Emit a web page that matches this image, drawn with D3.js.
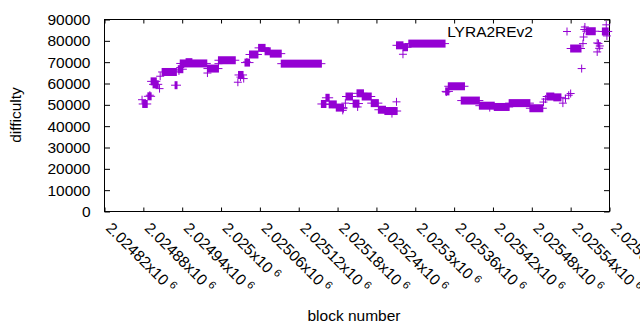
<!DOCTYPE html>
<html>
<head>
<meta charset="utf-8">
<script src="https://cdn.jsdelivr.net/npm/d3@7"></script>
<style>
  body { margin: 0; background: #fff; }
  text { font-family: "Liberation Sans", Arial, sans-serif; font-size: 15.5px; fill: #000; }
</style>
</head>
<body>
<div id="chart"></div>
<script>
// runs of blocks that share one difficulty: [first block, last block, difficulty]
const runs = [
  [2024879, 2024886, 50400], [2024887, 2024892, 54000], [2024892, 2024900, 61000],
  [2024895, 2024903, 59600], [2024909, 2024931, 65400], [2024929, 2024932, 59200],
  [2024934, 2024941, 66700], [2024937, 2024978, 69400], [2024946, 2024955, 70000],
  [2024979, 2024996, 67000], [2024996, 2025022, 70900], [2025027, 2025034, 64000],
  [2025037, 2025044, 69800], [2025044, 2025057, 73600], [2025058, 2025068, 76700],
  [2025068, 2025076, 75100], [2025076, 2025093, 74000], [2025093, 2025155, 69300],
  [2025155, 2025162, 50400], [2025162, 2025167, 53300], [2025167, 2025178, 50200],
  [2025178, 2025189, 48700], [2025193, 2025203, 53900], [2025204, 2025213, 50600],
  [2025210, 2025220, 55400], [2025218, 2025232, 53900], [2025232, 2025243, 50800],
  [2025243, 2025254, 47700], [2025253, 2025272, 47100], [2025271, 2025281, 77900],
  [2025281, 2025288, 77000], [2025290, 2025346, 78700], [2025347, 2025352, 56300],
  [2025351, 2025376, 58700], [2025371, 2025399, 52000], [2025399, 2025422, 49600],
  [2025422, 2025445, 49000], [2025445, 2025477, 50800], [2025477, 2025497, 48400],
  [2025503, 2025514, 53900], [2025514, 2025525, 53500], [2025540, 2025556, 76400],
  [2025564, 2025578, 84500], [2025589, 2025598, 84400]
];
// single blocks: [block, difficulty]
const singles = [
  [2024878, 52400], [2024890, 54500], [2024905, 57600], [2024906, 63400],
  [2024935, 65900], [2024937, 67500], [2024979, 64900], [2024996, 69300],
  [2025026, 60600], [2025030, 63000], [2025035, 62300], [2025040, 70100],
  [2025188, 47400], [2025189, 48200], [2025192, 50800], [2025211, 49000],
  [2025264, 45900], [2025271, 51400], [2025281, 73700], [2025348, 56000],
  [2025415, 48700], [2025498, 51300], [2025501, 52700], [2025528, 50800],
  [2025532, 52900], [2025537, 54500], [2025540, 55300], [2025557, 67000],
  [2025559, 78700], [2025560, 81800], [2025561, 85300], [2025562, 86500],
  [2025581, 74800], [2025581, 79000], [2025583, 78700], [2025584, 76500],
  [2025585, 77600], [2025595, 87500], [2025596, 82300]
];
const xTicks = [2024820, 2024880, 2024940, 2025000, 2025060, 2025120, 2025180,
  2025240, 2025300, 2025360, 2025420, 2025480, 2025540, 2025600];
const xTickLabels = ["2.02482", "2.02488", "2.02494", "2.025", "2.02506", "2.02512", "2.02518",
  "2.02524", "2.0253", "2.02536", "2.02542", "2.02548", "2.02554", "2.0256"];
const yTicks = [0, 10000, 20000, 30000, 40000, 50000, 60000, 70000, 80000, 90000];
const seriesName = "LYRA2REv2";

const color = "#9400d3";
const width = 640, height = 330;
const plot = { left: 104.5, right: 609.5, top: 19.5, bottom: 211.5 };

const svg = d3.select("#chart").append("svg")
  .attr("width", width)
  .attr("height", height);

const x = d3.scaleLinear().domain([2024820, 2025600]).range([plot.left, plot.right]);
const y = d3.scaleLinear().domain([0, 90000]).range([plot.bottom, plot.top]);

// axes, ticks point inward like gnuplot
svg.append("g")
  .attr("transform", "translate(" + plot.left + ",0)")
  .call(d3.axisLeft(y).tickValues(yTicks).tickSizeInner(-5.5).tickSizeOuter(0).tickPadding(14).tickFormat(d3.format("d")))
  .call(g => g.select(".domain").remove())
  .call(g => g.selectAll("text").attr("font-size", null).attr("font-family", null).attr("fill", null));

svg.append("g")
  .attr("transform", "translate(" + plot.right + ",0)")
  .call(d3.axisRight(y).tickValues(yTicks).tickSizeInner(-5.5).tickSizeOuter(0).tickFormat(""))
  .call(g => g.select(".domain").remove());

svg.append("g")
  .attr("transform", "translate(0," + plot.bottom + ")")
  .call(d3.axisBottom(x).tickValues(xTicks).tickSizeInner(-4).tickSizeOuter(0).tickFormat(""))
  .call(g => g.select(".domain").remove());

svg.append("g")
  .attr("transform", "translate(0," + plot.top + ")")
  .call(d3.axisTop(x).tickValues(xTicks).tickSizeInner(-4).tickSizeOuter(0).tickFormat(""))
  .call(g => g.select(".domain").remove());

svg.selectAll(".tick line").attr("stroke", "#000");

// rotated x tick labels
const xLab = svg.append("g").selectAll("text")
  .data(xTicks)
  .enter()
  .append("text")
  .attr("transform", d => "translate(" + (x(d) + 0.5) + ",229) rotate(45)");
xLab.append("tspan").text((d, i) => xTickLabels[i] + "x10");
xLab.append("tspan").attr("dx", 4).attr("dy", -5).attr("font-size", "11px").text("6");

svg.append("rect")
  .attr("x", plot.left).attr("y", plot.top)
  .attr("width", plot.right - plot.left).attr("height", plot.bottom - plot.top)
  .attr("fill", "none").attr("stroke", "#000").attr("stroke-width", 1);

// axis titles
svg.append("text")
  .attr("transform", "translate(21,115) rotate(-90)")
  .attr("text-anchor", "middle")
  .text("difficulty");

svg.append("text")
  .attr("x", 354).attr("y", 321)
  .attr("text-anchor", "middle")
  .text("block number");

// data
const half = 4;
const cross = "M" + (-half) + ",0H" + half + "M0," + (-half) + "V" + half;
const marks = svg.append("g");

marks.selectAll(".runBox")
  .data(runs)
  .enter()
  .append("rect")
  .attr("class", "runBox")
  .attr("x", d => x(d[0]) - 0.5)
  .attr("width", d => x(d[1]) - x(d[0]) + 1)
  .attr("y", d => y(d[2]) - half)
  .attr("height", half * 2)
  .attr("fill", color);

marks.selectAll(".runArm")
  .data(runs)
  .enter()
  .append("line")
  .attr("class", "runArm")
  .attr("x1", d => x(d[0]) - half)
  .attr("x2", d => x(d[1]) + half)
  .attr("y1", d => y(d[2]))
  .attr("y2", d => y(d[2]))
  .attr("stroke", color)
  .attr("stroke-width", 1);

marks.selectAll(".single")
  .data(singles)
  .enter()
  .append("path")
  .attr("class", "single")
  .attr("d", cross)
  .attr("transform", d => "translate(" + x(d[0]) + "," + y(d[1]) + ")")
  .attr("fill", "none")
  .attr("stroke", color)
  .attr("stroke-width", 1);

// key
svg.append("text")
  .attr("x", 533).attr("y", 37)
  .attr("text-anchor", "end")
  .text(seriesName);
svg.append("path")
  .attr("d", cross)
  .attr("transform", "translate(567,31.5)")
  .attr("fill", "none")
  .attr("stroke", color)
  .attr("stroke-width", 1);
</script>
</body>
</html>
